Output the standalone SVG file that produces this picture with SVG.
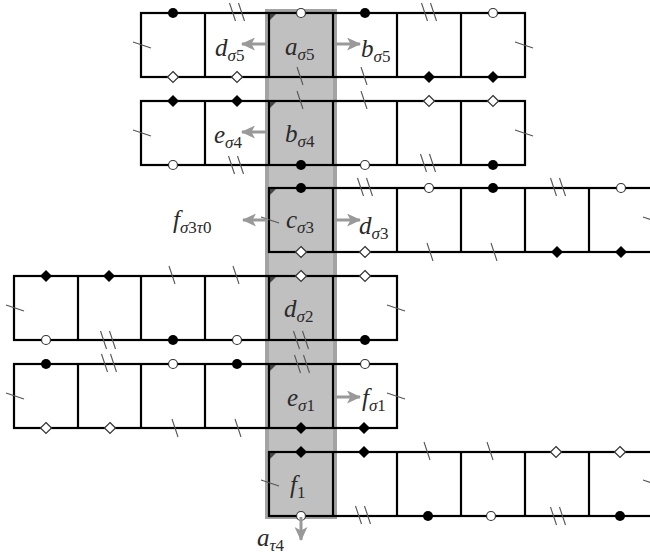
<svg xmlns="http://www.w3.org/2000/svg" xmlns:xlink="http://www.w3.org/1999/xlink" width="650" height="558" viewBox="0 0 650 558">
<style>
.cell{fill:none;stroke:#000;stroke-width:2.2}
.tk{stroke:#555;stroke-width:1.1;fill:none}
.arr{stroke:#999;stroke-width:3;fill:none;marker-end:url(#ah)}
.m{font-family:"Liberation Serif","DejaVu Serif",serif;font-style:italic;font-size:25px;fill:#2a2a2a}
.s{font-size:17px}
.n{font-style:normal}
.tri{fill:#444}
</style>
<defs>
<marker id="ah" markerWidth="14" markerHeight="13" refX="13" refY="6.5" orient="auto" markerUnits="userSpaceOnUse"><path d="M0,0 L14,6.5 L0,13 L3.5,6.5 Z" fill="#999"/></marker>
<circle id="dot" r="5" fill="#000"/>
<circle id="oc" r="4.5" fill="#fff" stroke="#333" stroke-width="1.2"/>
<polygon id="fd" points="0,-6 6,0 0,6 -6,0" fill="#000"/>
<polygon id="od" points="0,-5.5 5.5,0 0,5.5 -5.5,0" fill="#fff" stroke="#333" stroke-width="1.2"/>
<path id="t1" class="tk" d="M-3,-9 L3,9"/>
<path id="t2" class="tk" d="M-7.5,-9 L-1.5,9 M1.5,-9 L7.5,9"/>
<path id="tv" class="tk" d="M-9,-3 L9,3"/>
</defs>
<rect x="267" y="11" width="68" height="506" fill="#c0c0c0" stroke="#a3a3a3" stroke-width="4"/>

<g id="row1">
<rect class="cell" x="141" y="13" width="384" height="64"/>
<path class="cell" d="M205,13V77M269,13V77M333,13V77M397,13V77M461,13V77"/>
<polygon class="tri" points="270,14 276,14 270,20"/>
<use href="#dot" x="173" y="13"/><use href="#t2" x="237" y="12"/><use href="#oc" x="301" y="13"/><use href="#dot" x="365" y="13"/><use href="#t2" x="429" y="12"/><use href="#oc" x="493" y="13"/>
<use href="#od" x="173" y="77"/><use href="#od" x="237" y="77"/><use href="#t1" x="300" y="76"/><use href="#t1" x="364" y="76"/><use href="#fd" x="429" y="77"/><use href="#fd" x="493" y="77"/>
<use href="#tv" x="142" y="45"/><use href="#tv" x="524" y="45"/>
</g>

<g id="row2">
<rect class="cell" x="141" y="101" width="384" height="64"/>
<path class="cell" d="M205,101V165M269,101V165M333,101V165M397,101V165M461,101V165"/>
<polygon class="tri" points="270,102 276,102 270,108"/>
<use href="#fd" x="173" y="101"/><use href="#fd" x="237" y="101"/><use href="#t1" x="300" y="100"/><use href="#t1" x="364" y="100"/><use href="#od" x="429" y="101"/><use href="#od" x="493" y="101"/>
<use href="#oc" x="173" y="165"/><use href="#t2" x="236" y="165"/><use href="#dot" x="301" y="165"/><use href="#oc" x="365" y="165"/><use href="#t2" x="428" y="163"/><use href="#dot" x="493" y="165"/>
<use href="#tv" x="142" y="133"/><use href="#tv" x="524" y="133"/>
</g>

<g id="row3">
<rect class="cell" x="269" y="188" width="384" height="64"/>
<path class="cell" d="M333,188V252M397,188V252M461,188V252M525,188V252M589,188V252"/>
<polygon class="tri" points="270,189 276,189 270,195"/>
<use href="#dot" x="301" y="188"/><use href="#t2" x="365" y="187"/><use href="#oc" x="429" y="188"/><use href="#dot" x="493" y="188"/><use href="#t2" x="558" y="187"/><use href="#oc" x="621" y="188"/>
<use href="#od" x="301" y="252"/><use href="#od" x="365" y="252"/><use href="#t1" x="430" y="252"/><use href="#t1" x="494" y="252"/><use href="#fd" x="557" y="252"/><use href="#fd" x="621" y="252"/>
<use href="#tv" x="270" y="220"/><use href="#tv" x="652" y="220"/>
</g>

<g id="row4">
<rect class="cell" x="14" y="276" width="383" height="64"/>
<path class="cell" d="M78,276V340M141,276V340M205,276V340M269,276V340M333,276V340"/>
<polygon class="tri" points="270,277 276,277 270,283"/>
<use href="#fd" x="46" y="276"/><use href="#fd" x="109" y="276"/><use href="#t1" x="172" y="275"/><use href="#t1" x="236" y="275"/><use href="#od" x="301" y="276"/><use href="#od" x="365" y="276"/>
<use href="#oc" x="46" y="340"/><use href="#t2" x="108" y="340"/><use href="#dot" x="173" y="340"/><use href="#oc" x="237" y="340"/><use href="#t2" x="301" y="340"/><use href="#dot" x="365" y="340"/>
<use href="#tv" x="15" y="308"/><use href="#tv" x="396" y="308"/>
</g>

<g id="row5">
<rect class="cell" x="14" y="364" width="383" height="64"/>
<path class="cell" d="M78,364V428M141,364V428M205,364V428M269,364V428M333,364V428"/>
<polygon class="tri" points="270,365 276,365 270,371"/>
<use href="#dot" x="46" y="364"/><use href="#t2" x="109" y="363"/><use href="#oc" x="173" y="364"/><use href="#dot" x="237" y="364"/><use href="#t2" x="302" y="364"/><use href="#oc" x="365" y="364"/>
<use href="#od" x="46" y="428"/><use href="#od" x="110" y="428"/><use href="#t1" x="175" y="428"/><use href="#t1" x="238" y="428"/><use href="#fd" x="301" y="428"/><use href="#fd" x="364" y="428"/>
<use href="#tv" x="15" y="396"/><use href="#tv" x="396" y="396"/>
</g>

<g id="row6">
<rect class="cell" x="269" y="452" width="384" height="64"/>
<path class="cell" d="M333,452V516M397,452V516M461,452V516M525,452V516M589,452V516"/>
<polygon class="tri" points="270,453 276,453 270,459"/>
<use href="#fd" x="301" y="452"/><use href="#fd" x="364" y="452"/><use href="#t1" x="427" y="451"/><use href="#t1" x="490" y="451"/><use href="#od" x="556" y="452"/><use href="#od" x="620" y="452"/>
<use href="#oc" x="301" y="516"/><use href="#t2" x="363" y="515"/><use href="#dot" x="428" y="516"/><use href="#oc" x="491" y="516"/><use href="#t2" x="558" y="516"/><use href="#dot" x="620" y="516"/>
<use href="#tv" x="270" y="483"/><use href="#tv" x="652" y="483"/>
</g>

<g id="connectors">
<line class="arr" x1="268" y1="44" x2="242" y2="44"/>
<line class="arr" x1="334" y1="44" x2="360" y2="44"/>
<line class="arr" x1="268" y1="132" x2="242" y2="132"/>
<line class="arr" x1="268" y1="220" x2="243" y2="220"/>
<line class="arr" x1="334" y1="220" x2="360" y2="220"/>
<line class="arr" x1="334" y1="397" x2="360" y2="397"/>
<line class="arr" x1="301" y1="517" x2="301" y2="540"/>
</g>

<g id="labels">
<text class="m" x="285" y="55">a<tspan class="s" dy="5">σ<tspan class="n">5</tspan></tspan></text>
<text class="m" x="215" y="56">d<tspan class="s" dy="5">σ<tspan class="n">5</tspan></tspan></text>
<text class="m" x="361" y="57">b<tspan class="s" dy="5">σ<tspan class="n">5</tspan></tspan></text>
<text class="m" x="285" y="142">b<tspan class="s" dy="5">σ<tspan class="n">4</tspan></tspan></text>
<text class="m" x="214" y="143">e<tspan class="s" dy="5">σ<tspan class="n">4</tspan></tspan></text>
<text class="m" x="286" y="228">c<tspan class="s" dy="5">σ<tspan class="n">3</tspan></tspan></text>
<text class="m" x="173" y="228">f<tspan class="s" dy="5">σ<tspan class="n">3</tspan>τ<tspan class="n">0</tspan></tspan></text>
<text class="m" x="359" y="234">d<tspan class="s" dy="5">σ<tspan class="n">3</tspan></tspan></text>
<text class="m" x="284" y="317">d<tspan class="s" dy="5">σ<tspan class="n">2</tspan></tspan></text>
<text class="m" x="287" y="406">e<tspan class="s" dy="5">σ<tspan class="n">1</tspan></tspan></text>
<text class="m" x="362" y="406">f<tspan class="s" dy="5">σ<tspan class="n">1</tspan></tspan></text>
<text class="m" x="290" y="493">f<tspan class="s n" dy="5">1</tspan></text>
<text class="m" x="257" y="546">a<tspan class="s" dy="5">τ<tspan class="n">4</tspan></tspan></text>
</g>
</svg>
